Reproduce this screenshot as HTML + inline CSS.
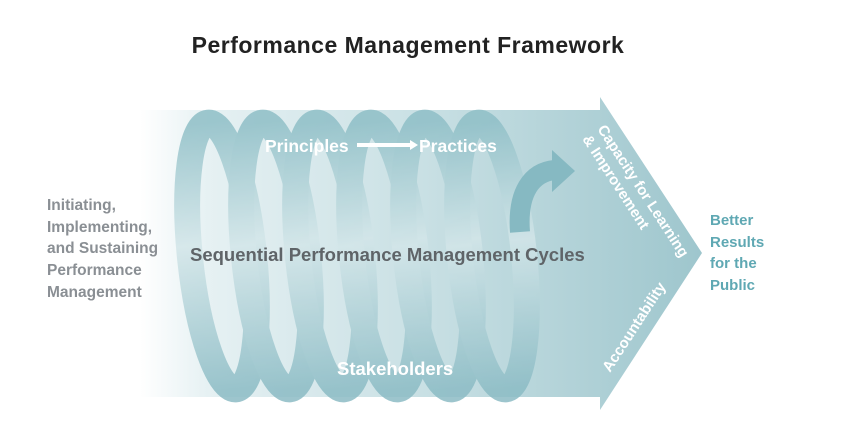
<!DOCTYPE html>
<html><head><style>
body{margin:0;width:857px;height:442px;background:#fff;overflow:hidden;font-family:"Liberation Sans",sans-serif;}
</style></head><body>
<svg width="857" height="442" viewBox="0 0 857 442" xmlns="http://www.w3.org/2000/svg" style="position:absolute;left:0;top:0">
<defs>
<linearGradient id="bg" x1="0" x2="1" y1="0" y2="0">
<stop offset="0" stop-color="#fff"/>
<stop offset="0.12" stop-color="#e6f1f3"/>
<stop offset="0.5" stop-color="#c9e0e4"/>
<stop offset="1" stop-color="#9ec6cd"/>
</linearGradient>
<linearGradient id="coil" x1="0" x2="0" y1="0" y2="1">
<stop offset="0" stop-color="#8fbfc7"/>
<stop offset="0.45" stop-color="#d3e6e9"/>
<stop offset="1" stop-color="#8cbcc5"/>
</linearGradient>
</defs>
<polygon points="140,110 600,110 600,97 702,253 600,410 600,397 140,397" fill="url(#bg)"/>
<g fill="none" stroke="url(#coil)" stroke-width="26" opacity="0.85">
<ellipse cx="222" cy="256" rx="32" ry="134" transform="rotate(-6 222 256)"/>
<ellipse cx="276" cy="256" rx="32" ry="134" transform="rotate(-6 276 256)"/>
<ellipse cx="330" cy="256" rx="32" ry="134" transform="rotate(-6 330 256)"/>
<ellipse cx="384" cy="256" rx="32" ry="134" transform="rotate(-6 384 256)"/>
<ellipse cx="438" cy="256" rx="32" ry="134" transform="rotate(-6 438 256)"/>
<ellipse cx="492" cy="256" rx="32" ry="134" transform="rotate(-6 492 256)"/>
</g>
<path d="M520,232 C517,192 532,172 555,170" fill="none" stroke="#86b9c2" stroke-width="20"/>
<polygon points="552,150 575,171 552,192" fill="#86b9c2"/>
<rect x="357" y="143" width="55" height="4" fill="#fff"/>
<polygon points="410,140 418,145 410,150" fill="#fff"/>
<g font-weight="bold">
<text x="408" y="53" text-anchor="middle" font-size="23" letter-spacing="0.5" fill="#222">Performance Management Framework</text>
<text x="265" y="152" font-size="17.5" fill="#fff">Principles</text>
<text x="419" y="152" font-size="17.5" fill="#fff">Practices</text>
<text x="190" y="261" font-size="18.5" fill="#5f6468">Sequential Performance Management Cycles</text>
<text x="337" y="375" font-size="18.5" fill="#fff">Stakeholders</text>
<g font-size="15.5" fill="#8a8f94">
<text x="47" y="210">Initiating,</text>
<text x="47" y="232">Implementing,</text>
<text x="47" y="253">and Sustaining</text>
<text x="47" y="275">Performance</text>
<text x="47" y="297">Management</text>
</g>
<g font-size="15" fill="#5fa8b3">
<text x="710" y="225">Better</text>
<text x="710" y="247">Results</text>
<text x="710" y="268">for the</text>
<text x="710" y="290">Public</text>
</g>
<g font-size="15" fill="#fff">
<text transform="translate(597,129) rotate(57)">Capacity for Learning</text>
<text transform="translate(582,139) rotate(57)">&amp; Improvement</text>
<text transform="translate(610,373) rotate(-57)">Accountability</text>
</g>
</g>
</svg>
</body></html>
